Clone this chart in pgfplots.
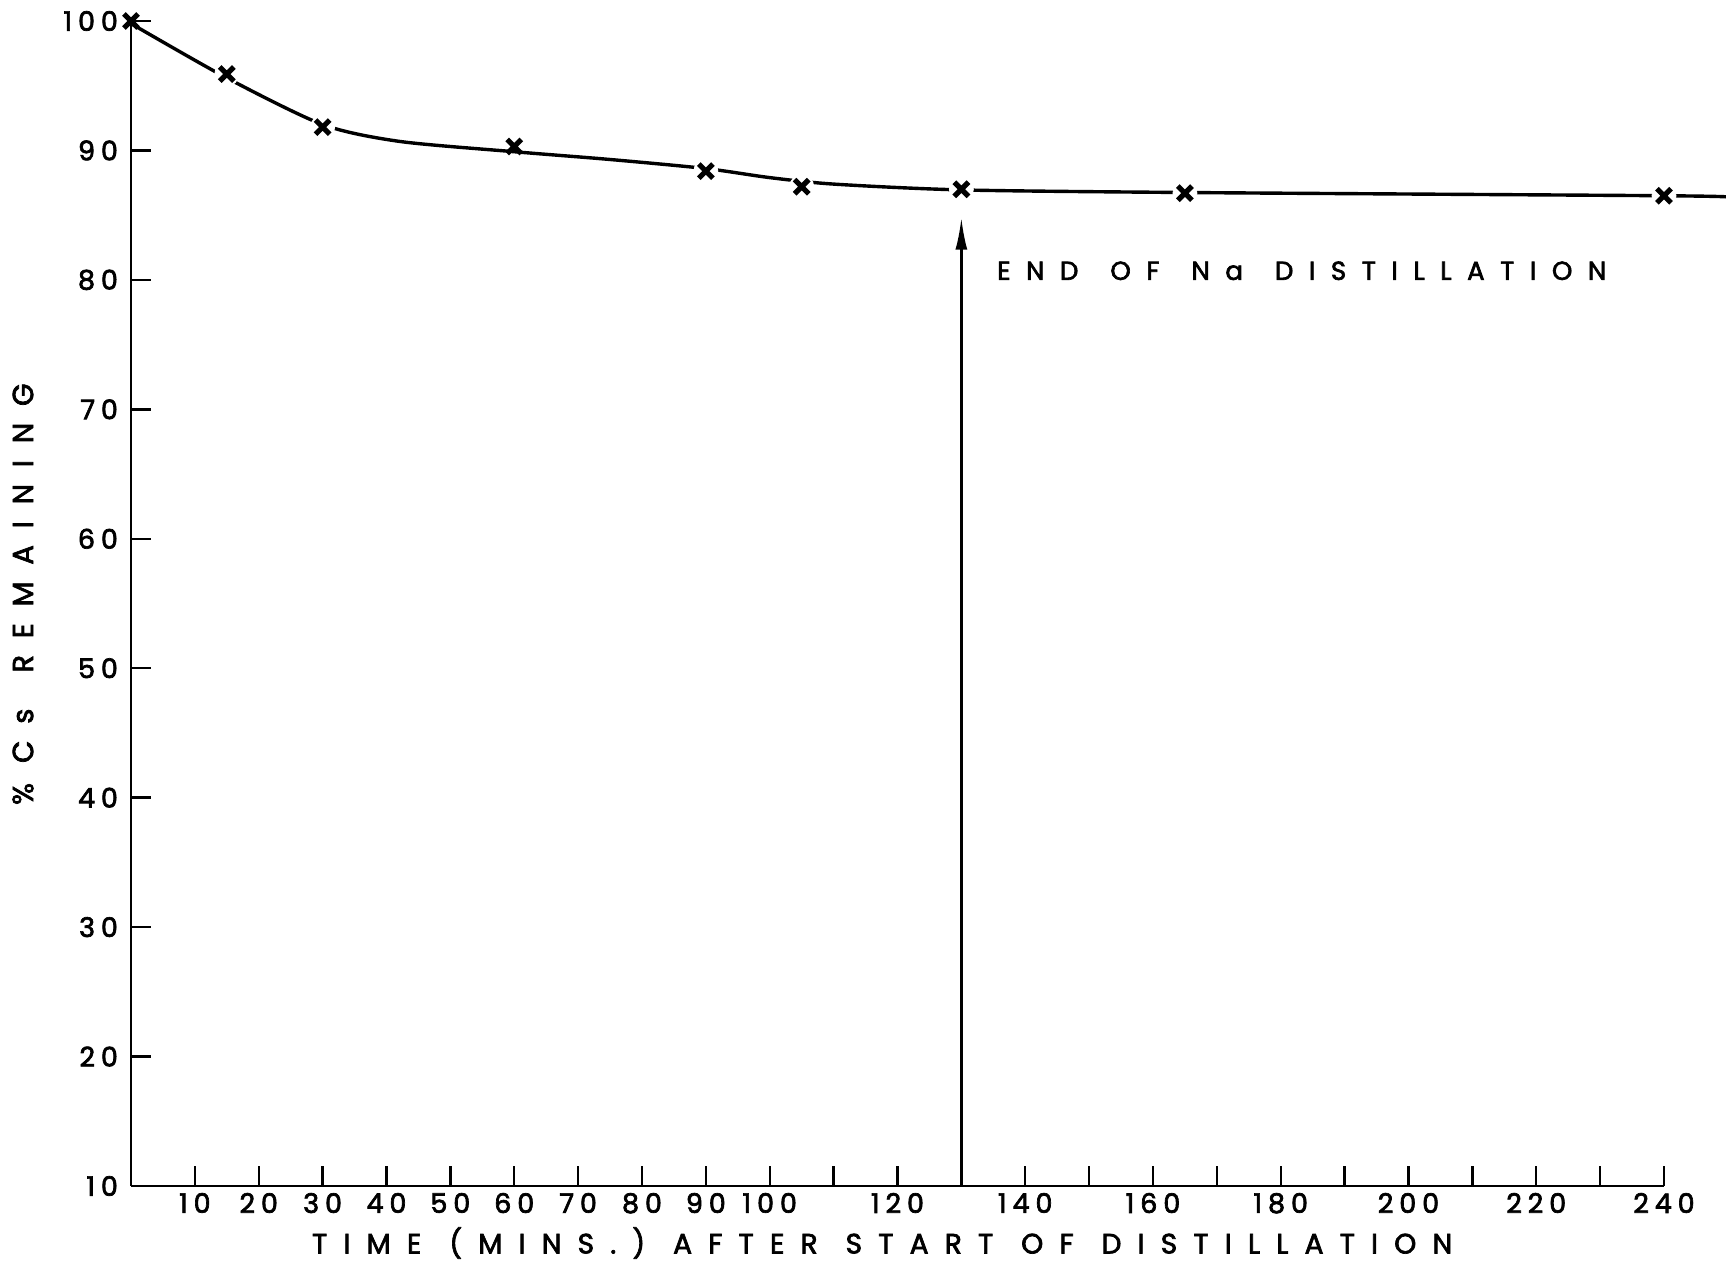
\documentclass[border=0pt]{standalone}
\usepackage{pgfplots}
\pgfplotsset{compat=1.18}
\usetikzlibrary{arrows.meta}
\usepackage{fontspec}
\setmainfont{Poppins}
\newfontfamily\ticklab[LetterSpace=22,FakeBold=2.5]{Poppins}
\newfontfamily\axlab[LetterSpace=58,FakeBold=2.5]{Poppins}
\newfontfamily\annot[LetterSpace=60,FakeBold=2.5]{Poppins}
\begin{document}
\begin{tikzpicture}
\begin{axis}[
  scale only axis, width=766.5pt, height=582.5pt,
  xmin=0, xmax=240, ymin=10, ymax=100,
  axis x line*=bottom, axis y line*=left,
  axis line style={line width=1.3pt, -},
  tick align=inside, major tick length=10pt,
  tick style={line width=1.2pt, black},
  xtick={10,20,...,240},
  xticklabels={10,20,30,40,50,60,70,80,90,100,,120,,140,,160,,180,,200,,220,,240},
  ytick={10,20,...,100},
  /pgf/number format/assume math mode=true,
  ticklabel style={font=\ticklab\fontsize{13.5}{15}\selectfont},
  yticklabel style={xshift=-3pt},
  xlabel={TIME\hspace{14pt}(MINS.)\hspace{14pt}AFTER\hspace{14pt}START\hspace{14pt}OF\hspace{14pt}DISTILLATION},
  xlabel style={font=\axlab\fontsize{14}{16}\selectfont, at={(axis description cs:0.49,0)}, anchor=center, yshift=-28.5pt},
  ylabel={\%\hspace{10pt}Cs\hspace{18pt}REMAINING},
  ylabel style={font=\axlab\fontsize{14.5}{16}\selectfont, at={(axis description cs:0,0.508)}, anchor=center, yshift=54pt},
  clip=false,
]
% smooth fitted curve
\addplot[black, line width=1.7pt, smooth, tension=0.45] coordinates {
  (0,99.8) (15,95.6) (30,92.0) (42,90.7) (60,89.9) (75,89.3) (90,88.6) (100,87.9) (110,87.4) (130,86.95) (165,86.75) (240,86.5) (250,86.4)
};
% white halos (gaps round the marks)
\addplot[only marks, mark=*, mark size=6pt, white] coordinates {
  (15,95.9) (30,91.8) (90,88.4) (105,87.2) (130,87.0) (165,86.7) (240,86.5)
};
% data marks
\addplot[only marks, mark=x, mark size=5pt, black, line width=2.6pt] coordinates {
  (0,100) (15,95.9) (30,91.8) (60,90.3) (90,88.4) (105,87.2) (130,87.0) (165,86.7) (240,86.5)
};
% arrow
\addplot[black, line width=1.3pt, -{Latex[length=16pt,width=6pt]}] coordinates {(130,10) (130,84.8)};
\node[anchor=west, font=\annot\fontsize{13}{15}\selectfont] at (axis cs:134.5,80.7)
  {END\hspace{16pt}OF\hspace{16pt}Na\hspace{16pt}DISTILLATION};
\end{axis}
\pgfresetboundingbox
\path (-65.5pt,-37.5pt) rectangle (797.5pt,593pt);
\end{tikzpicture}
\end{document}
